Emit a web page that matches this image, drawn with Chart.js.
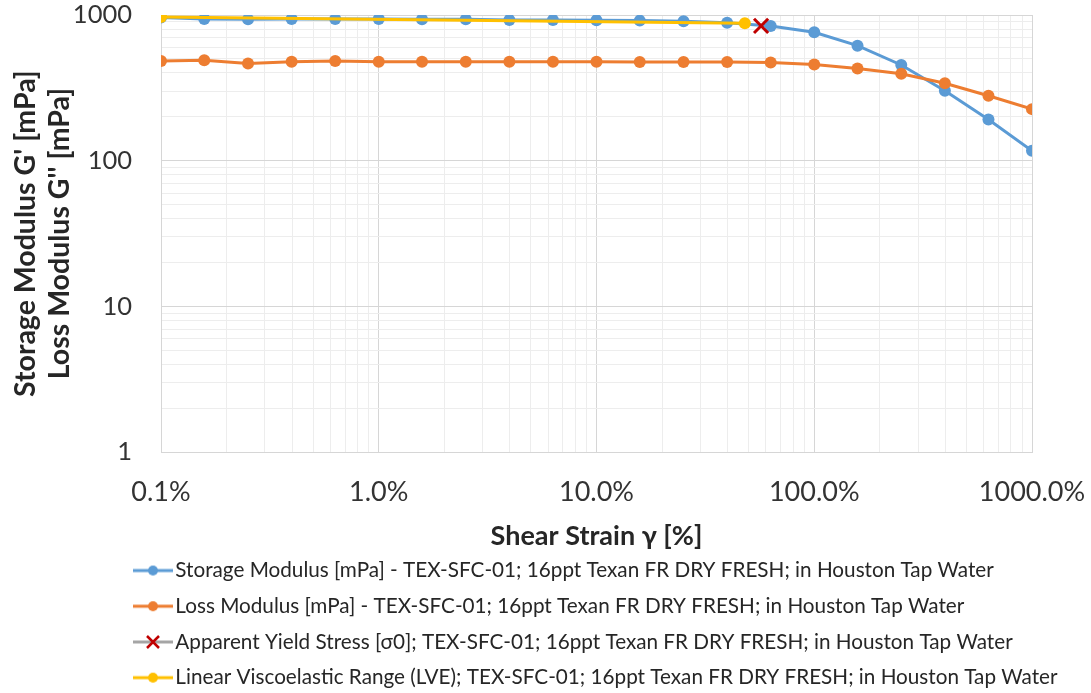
<!DOCTYPE html>
<html>
<head>
<meta charset="utf-8">
<script src="https://cdn.jsdelivr.net/npm/chart.js@4.4.1/dist/chart.umd.min.js"></script>
<style>
html,body{margin:0;padding:0;background:#fff;}
</style>
</head>
<body>
<canvas id="chart" width="1091" height="693"></canvas>
<script>
// DATA
const strainPct = [0.1,0.158,0.251,0.398,0.631,1,1.58,2.51,3.98,6.31,10,15.8,25.1,39.8,63.1,100,158,251,398,631,1000];
const storageMod = [960,940,935,940,938,938,935,935,925,924,922,915,905,886,840,762,616,454,302,192,117];
const lossMod = [483,490,464,478,483,478,478,478,478,478,478,476,476,476,472,458,430,395,340,279,226];
const lveStrain = [0.1,48];
const lveMod = [970,877];
const yieldStrain = [57];
const yieldMod = [842];
const xDecades = [0.1,1,10,100,1000];
const yDecades = [1,10,100,1000];
const seriesNames = [
    "Storage Modulus [mPa] - TEX-SFC-01; 16ppt Texan FR DRY FRESH; in Houston Tap Water",
    "Loss Modulus [mPa] - TEX-SFC-01; 16ppt Texan FR DRY FRESH; in Houston Tap Water",
    "Apparent Yield Stress [σ0]; TEX-SFC-01; 16ppt Texan FR DRY FRESH; in Houston Tap Water",
    "Linear Viscoelastic Range (LVE); TEX-SFC-01; 16ppt Texan FR DRY FRESH; in Houston Tap Water"
];

const BLUE="#5b9bd5", ORANGE="#ed7d31", YELLOW="#ffc000", RED="#c00000", GREY="#a5a5a5";
const FONT="Lato";

function pairs(xs,ys){ return xs.map((x,i)=>({x:x,y:ys[i]})); }

// ticks at 1..9 of every decade, decades flagged major
function logTicks(decades){
    const out=[];
    decades.forEach((d,i)=>{
        if(i===decades.length-1){ out.push({value:d,major:true}); return; }
        for(let k=1;k<10;k++) out.push({value:+(d*k).toPrecision(6),major:k===1});
    });
    return out;
}

// legend sample: short line with the marker in the middle
function sample(lineColor,marker,markColor){
    const c=document.createElement("canvas");
    c.width=40; c.height=16;
    const g=c.getContext("2d");
    g.strokeStyle=lineColor; g.lineWidth=3;
    g.beginPath(); g.moveTo(0,8); g.lineTo(40,8); g.stroke();
    if(marker==="x"){
        g.strokeStyle=markColor; g.lineWidth=2.5;
        g.beginPath(); g.moveTo(14,2); g.lineTo(26,14); g.moveTo(26,2); g.lineTo(14,14); g.stroke();
    }else{
        g.fillStyle=markColor;
        g.beginPath(); g.arc(20,8,5,0,Math.PI*2); g.fill();
    }
    return c;
}
const samples=[sample(BLUE,"o",BLUE),sample(ORANGE,"o",ORANGE),sample(GREY,"x",RED),sample(YELLOW,"o",YELLOW)];

// put the legend block where the original has it (left aligned under the plot)
const legendShift={
    id:"legendShift",
    afterLayout(chart){
        const lg=chart.legend;
        lg.left=126;
        lg.right=chart.width;
        lg.width=lg.right-lg.left;
        lg.top+=5;
        lg.bottom+=5;
    }
};

const gridColor=ctx=>ctx.tick && ctx.tick.major ? "#d6d6d6" : "#ededed";

new Chart(document.getElementById("chart"),{
    type:"line",
    data:{
        datasets:[
            {label:seriesNames[0],data:pairs(strainPct,storageMod),borderColor:BLUE,backgroundColor:BLUE,
             borderWidth:3,pointRadius:6,pointBorderWidth:0,order:4},
            {label:seriesNames[1],data:pairs(strainPct,lossMod),borderColor:ORANGE,backgroundColor:ORANGE,
             borderWidth:3,pointRadius:6,pointBorderWidth:0,order:3},
            {label:seriesNames[2],data:pairs(yieldStrain,yieldMod),borderColor:RED,backgroundColor:RED,
             showLine:false,pointStyle:"crossRot",pointRadius:10,pointBorderWidth:3,order:2},
            {label:seriesNames[3],data:pairs(lveStrain,lveMod),borderColor:YELLOW,backgroundColor:YELLOW,
             borderWidth:3,pointRadius:6,pointBorderWidth:0,order:1}
        ]
    },
    options:{
        responsive:false,
        animation:false,
        events:[],
        layout:{padding:{top:15,right:59,left:0,bottom:0}},
        plugins:{
            tooltip:{enabled:false},
            legend:{
                position:"bottom",
                align:"start",
                labels:{
                    font:{family:FONT,size:20.7},
                    color:"#262626",
                    usePointStyle:true,
                    pointStyleWidth:24,
                    padding:15,
                    generateLabels(chart){
                        const items=Chart.defaults.plugins.legend.labels.generateLabels(chart);
                        items.sort((a,b)=>a.datasetIndex-b.datasetIndex);
                        items.forEach(it=>{ it.pointStyle=samples[it.datasetIndex]; });
                        return items;
                    }
                }
            }
        },
        scales:{
            x:{
                type:"logarithmic",
                min:xDecades[0],max:xDecades[xDecades.length-1],
                afterBuildTicks(s){ s.ticks=logTicks(xDecades); },
                afterFit(s){ s.height=88; s.paddingLeft=0; s.paddingRight=0; },
                grid:{color:gridColor,drawTicks:false},
                border:{color:"#d6d6d6"},
                ticks:{
                    autoSkip:false,maxRotation:0,padding:24,
                    font:{family:FONT,size:27},color:"#333",
                    callback:(v,i,t)=>t[i].major ? v.toFixed(1)+"%" : ""
                },
                title:{display:true,text:"Shear Strain γ [%]",color:"#262626",
                       font:{family:FONT,size:27,weight:"bold"},padding:{top:0,bottom:-12}}
            },
            y:{
                type:"logarithmic",
                min:yDecades[0],max:yDecades[yDecades.length-1],
                afterBuildTicks(s){ s.ticks=logTicks(yDecades); },
                afterFit(s){ s.width=161; s.paddingTop=0; s.paddingBottom=0; },
                grid:{color:gridColor,drawTicks:false},
                border:{color:"#d6d6d6"},
                ticks:{
                    autoSkip:false,padding:29,
                    font:{family:FONT,size:25.5},color:"#333",
                    callback:(v,i,t)=>t[i].major ? String(v) : ""
                },
                title:{display:true,text:["Storage Modulus G' [mPa]","Loss Modulus G'' [mPa]"],color:"#262626",
                       font:{family:FONT,size:28.5,weight:"bold",lineHeight:1.19},padding:{top:9,bottom:0}}
            }
        }
    },
    plugins:[legendShift]
});
</script>
</body>
</html>
